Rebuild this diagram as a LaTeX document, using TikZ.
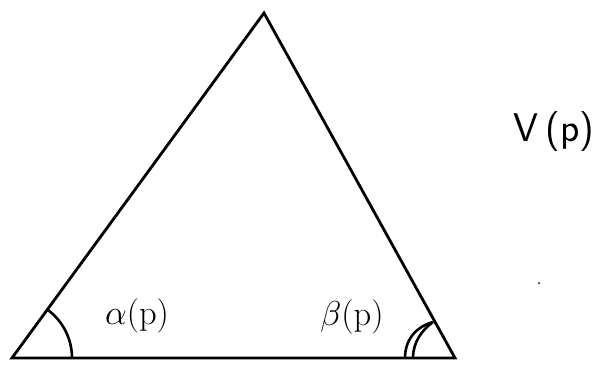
\documentclass[tikz,border=0pt]{standalone}
\usepackage{tikz}
\tikzset{
  edge/.style={line width=1.4pt,line join=miter,line cap=round},
  anglemark/.style={line width=1.3pt},
  lbl/.style={inner sep=0pt,font=\fontsize{16.5}{19}\selectfont}}
\begin{document}
\begin{tikzpicture}[x=0.5pt,y=-0.5pt]
\useasboundingbox (0,0) rectangle (600,365);
\coordinate (A) at (12,358);
\coordinate (B) at (455,358);
\coordinate (C) at (264,13);
\draw[edge] (A) -- (B) -- (C) -- cycle;
% angle at A
\coordinate (As) at (47.3,309.5);
\coordinate (Ae) at (72,358);
\draw[anglemark] (As) .. controls (62.8,320.8) and (72,338.8) .. (Ae);
% angle at B (double)
\coordinate (Bt) at (433,322);
\coordinate (Bo) at (405,358);
\coordinate (Bi) at (413,358);
\draw[anglemark] (Bo) .. controls (405,338) and (418,326) .. (Bt);
\draw[anglemark] (Bi) .. controls (413,342) and (422,330) .. (Bt);
\node[lbl] (alpha) at (137,316) {$\alpha(\mathrm{p})$};
\node[lbl] (beta) at (352,317) {$\beta(\mathrm{p})$};
\node[lbl,font=\sffamily\fontsize{20}{24}\selectfont] (V) at (554,132) {V\,(p)};
\fill (539,283) circle[radius=1];
\end{tikzpicture}
\end{document}
